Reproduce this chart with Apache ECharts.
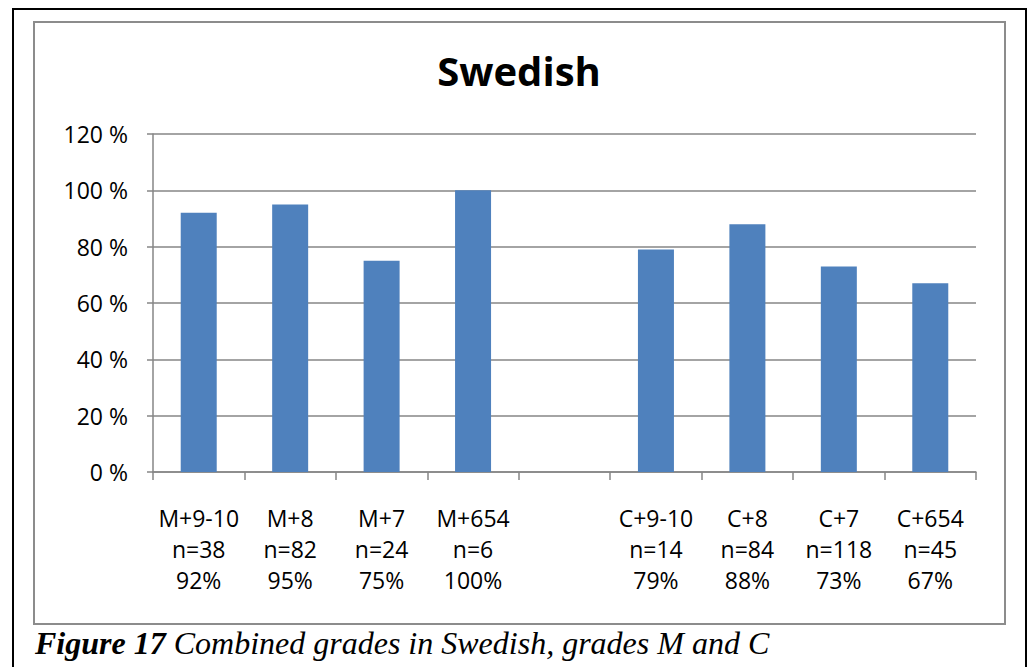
<!DOCTYPE html>
<html>
<head>
<meta charset="utf-8">
<script src="https://cdn.jsdelivr.net/npm/echarts@6/dist/echarts.min.js"></script>
<style>
  html, body { margin: 0; padding: 0; background: #fff; }
  #chart { width: 1029px; height: 667px; }
</style>
</head>
<body>
<div id="chart"></div>
<script>
const groups = ['M+9-10', 'M+8', 'M+7', 'M+654', '', 'C+9-10', 'C+8', 'C+7', 'C+654'];
const counts = ['n=38', 'n=82', 'n=24', 'n=6', '', 'n=14', 'n=84', 'n=118', 'n=45'];
const shares = [92, 95, 75, 100, null, 79, 88, 73, 67];
const yTicks = [0, 20, 40, 60, 80, 100, 120];

const categories = groups.map((g, i) => g ? g + '\n' + counts[i] + '\n' + shares[i] + '%' : '');

const chart = echarts.init(document.getElementById('chart'), null, { renderer: 'svg' });
chart.setOption({
    animation: false,
    grid: { left: 153, right: 53, top: 134, bottom: 195 },
    xAxis: {
        type: 'category',
        data: categories,
        axisLine: { lineStyle: { color: '#868686', width: 1.5 } },
        axisTick: { show: true, length: 8, lineStyle: { color: '#868686', width: 1.5 } },
        axisLabel: {
            interval: 0, margin: 30, color: '#000',
            fontFamily: 'Open Sans', fontSize: 23, lineHeight: 31
        }
    },
    yAxis: {
        type: 'value',
        min: yTicks[0],
        max: yTicks[yTicks.length - 1],
        interval: 20,
        axisLine: { show: true, lineStyle: { color: '#868686', width: 1.5 } },
        axisTick: { show: true, length: 6, lineStyle: { color: '#868686', width: 1.5 } },
        splitLine: { lineStyle: { color: '#868686', width: 1.5 } },
        axisLabel: {
            formatter: '{value} %', margin: 25, color: '#000',
            fontFamily: 'Open Sans', fontSize: 23
        }
    },
    series: [{
        type: 'bar',
        data: shares.map(v => v === null ? '-' : v),
        barWidth: 36,
        itemStyle: { color: '#4F81BD' }
    }],
    graphic: [
        {
            type: 'rect', silent: true,
            shape: { x: 13, y: 9, width: 1013, height: 680 },
            style: { fill: 'none', stroke: '#000', lineWidth: 2 }
        },
        {
            type: 'rect', silent: true,
            shape: { x: 34, y: 22, width: 971, height: 602 },
            style: { fill: 'none', stroke: '#8c8c8c', lineWidth: 2 }
        },
        {
            type: 'text', silent: true,
            x: 519, y: 70,
            style: {
                text: 'Swedish', align: 'center', verticalAlign: 'middle',
                fontFamily: 'Open Sans', fontWeight: 'bold', fontSize: 40, fill: '#000'
            }
        },
        {
            type: 'text', silent: true,
            x: 35, y: 643,
            style: {
                text: '{b|Figure 17 }{i|Combined grades in Swedish, grades M and C}',
                verticalAlign: 'middle',
                rich: {
                    b: { fontFamily: 'Liberation Serif', fontStyle: 'italic', fontWeight: 'bold', fontSize: 32, fill: '#000' },
                    i: { fontFamily: 'Liberation Serif', fontStyle: 'italic', fontSize: 32, fill: '#000' }
                }
            }
        }
    ]
});
</script>
</body>
</html>
